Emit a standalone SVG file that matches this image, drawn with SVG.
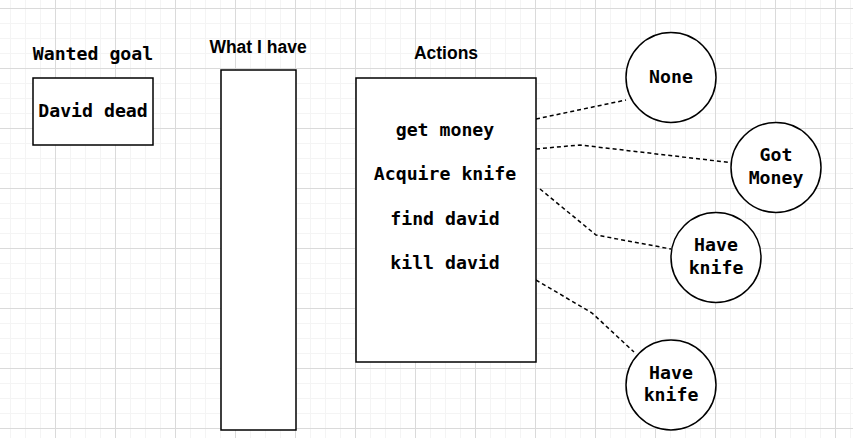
<svg xmlns="http://www.w3.org/2000/svg" width="853" height="438" viewBox="0 0 853 438">
<defs>
<pattern id="grid" patternUnits="userSpaceOnUse" x="55" y="8" width="60" height="60">
<rect x="0" y="0" width="60" height="60" fill="#ffffff"/>
<rect x="15" y="0" width="1" height="60" fill="#f4f4f4"/>
<rect x="30" y="0" width="1" height="60" fill="#f4f4f4"/>
<rect x="45" y="0" width="1" height="60" fill="#f4f4f4"/>
<rect x="0" y="15" width="60" height="1" fill="#f4f4f4"/>
<rect x="0" y="30" width="60" height="1" fill="#f4f4f4"/>
<rect x="0" y="45" width="60" height="1" fill="#f4f4f4"/>
<rect x="0" y="0" width="1" height="60" fill="#dadada"/>
<rect x="0" y="0" width="60" height="1" fill="#dadada"/>
</pattern>
</defs>
<style>
.box{fill:#ffffff;stroke:#000000;stroke-width:1.5}
.mono{font-family:"DejaVu Sans Mono","Liberation Mono",monospace;font-weight:bold;font-size:18.2px;fill:#000000;text-anchor:middle}
.sans{font-family:"Liberation Sans",Arial,sans-serif;font-weight:bold;font-size:17.5px;fill:#000000;text-anchor:middle}
.conn{fill:none;stroke:#000000;stroke-width:1.5;stroke-dasharray:4 3}
</style>
<rect x="0" y="0" width="853" height="438" fill="url(#grid)"/>
<g id="connectors">
<path class="conn" d="M536,119 L626,100"/>
<path class="conn" d="M536,149 L580,145 L730,162.5"/>
<path class="conn" d="M540,189 L596,235 L671,249"/>
<path class="conn" d="M536,280 L592,313 L634,352"/>
</g>
<g id="wanted-goal">
<text class="mono" x="93" y="60">Wanted goal</text>
<rect class="box" x="33" y="78" width="120" height="67"/>
<text class="mono" x="93" y="117">David dead</text>
</g>
<g id="what-i-have">
<text class="sans" x="258" y="53">What I have</text>
<rect class="box" x="221" y="70" width="75" height="360"/>
</g>
<g id="actions">
<text class="sans" x="446" y="59">Actions</text>
<rect class="box" x="356" y="78" width="180" height="284"/>
<text class="mono" x="445" y="136">get money</text>
<text class="mono" x="445" y="180">Acquire knife</text>
<text class="mono" x="445" y="225">find david</text>
<text class="mono" x="445" y="269">kill david</text>
</g>
<g id="none">
<circle class="box" cx="671" cy="77.5" r="45"/>
<text class="mono" x="671" y="82.5">None</text>
</g>
<g id="got-money">
<circle class="box" cx="776" cy="167.5" r="45"/>
<text class="mono" x="776" y="161">Got</text>
<text class="mono" x="776" y="183.5">Money</text>
</g>
<g id="have-knife-1">
<circle class="box" cx="716" cy="257.5" r="45"/>
<text class="mono" x="716" y="251">Have</text>
<text class="mono" x="716" y="273.5">knife</text>
</g>
<g id="have-knife-2">
<circle class="box" cx="671" cy="385" r="45"/>
<text class="mono" x="671" y="379">Have</text>
<text class="mono" x="671" y="401">knife</text>
</g>
</svg>
